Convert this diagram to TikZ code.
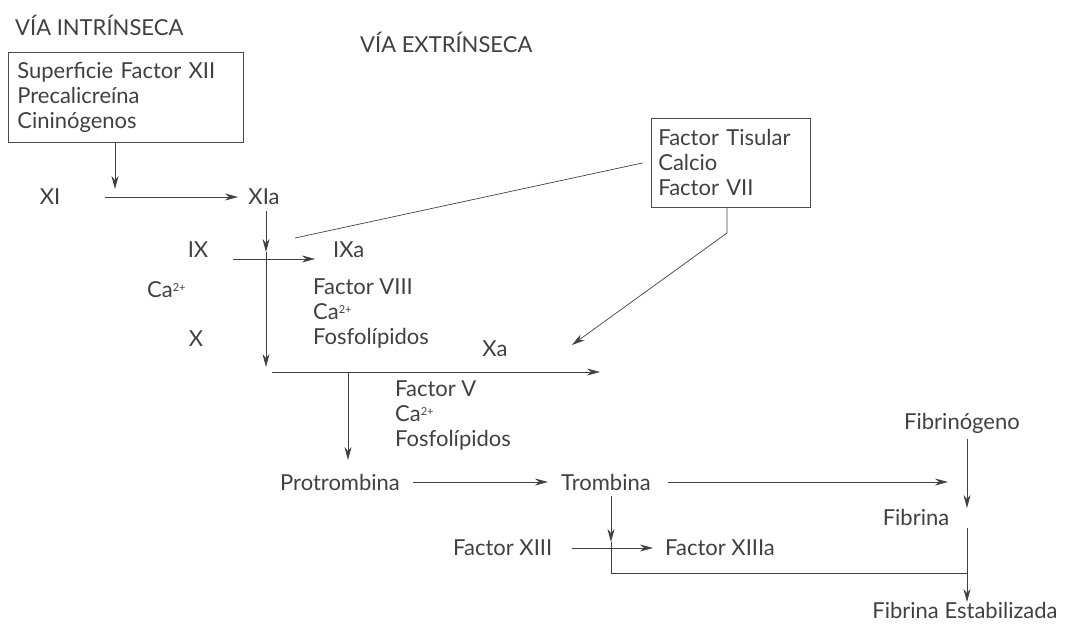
\documentclass[tikz,border=0pt]{standalone}
\usepackage{fontspec}
\setmainfont{Lato}
\usetikzlibrary{arrows.meta}
\newcommand{\cados}{Ca\raisebox{0.6ex}{\fontsize{11}{11}\selectfont 2+}}
\begin{document}
\begin{tikzpicture}[x=1pt,y=-1pt,
    lbl/.style={inner sep=0pt,font=\fontsize{22}{25}\selectfont,text=black!75},
    caja/.style={lbl,draw=black!70,line width=0.7pt,align=left,anchor=north west,inner xsep=9pt},
    con/.style={draw=black!75,line width=0.7pt},
    arr/.style={con,-{Stealth[length=13pt,width=7pt]}}]
\useasboundingbox (0,0) rectangle (1066,626);

\node[lbl,anchor=west] (intr) at (15,25) {VÍA INTRÍNSECA};
\node[lbl,anchor=west] (extr) at (360,42) {VÍA EXTRÍNSECA};

\node[caja,text width=217pt,minimum height=90pt] (sup) at (8,52)
    {Superficie Factor XII\\Precalicreína\\Cininógenos};
\node[caja,text width=145pt,minimum height=89pt,inner xsep=7pt] (tis) at (651,118)
    {Factor Tisular\\Calcio\\Factor VII};

\node[lbl] (xi) at (50,197) {XI};
\node[lbl] (xia) at (264,197) {XIa};
\node[lbl] (ix) at (198,250) {IX};
\node[lbl,anchor=west] (ixa) at (333,250) {IXa};
\node[lbl,anchor=west] (ca) at (147,290) {\cados};
\node[lbl,anchor=north west,align=left] (fviii) at (313,279)
    {Factor VIII\\\cados\\Fosfolípidos};
\node[lbl] (x) at (196,339) {X};
\node[lbl] (xa) at (495,349) {Xa};
\node[lbl,anchor=north west,align=left] (fv) at (395,381)
    {Factor V\\\cados\\Fosfolípidos};
\node[lbl,anchor=west] (prot) at (280,482) {Protrombina};
\node[lbl,anchor=west] (trom) at (561,482) {Trombina};
\node[lbl] (fibg) at (962,423) {Fibrinógeno};
\node[lbl] (fib) at (916,517) {Fibrina};
\node[lbl,anchor=west] (fxiii) at (453,548) {Factor XIII};
\node[lbl,anchor=west] (fxiiia) at (665,548) {Factor XIIIa};
\node[lbl] (fest) at (965,610) {Fibrina Estabilizada};

% puntos de paso
\coordinate (a1) at (115,189);
\coordinate (a2) at (266,252);
\coordinate (a3) at (266,367);
\coordinate (a4) at (295,238);
\coordinate (a5) at (727,233);
\coordinate (a6) at (572,345);
\coordinate (a7) at (348,372);
\coordinate (a8) at (611,542);
\coordinate (a9) at (967,573);

\draw[arr] (sup.south -| a1) -- (a1);
\draw[arr] (105,197) -- (238,197);
\draw[arr] (xia.south -| a2) ++(0,6) -- (a2);
\draw[arr] (a2) -- (a3);
\draw[arr] (233,259) -- (315,259);
\draw[con] ([xshift=-8pt]tis.west) -- (a4);
\draw[arr] (tis.south -| a5) -- (a5) -- (a6);
\draw[arr] (272,372) -- (600,372);
\draw[arr] (a7) -- (348,460);
\draw[arr] (413,482) -- (548,482);
\draw[arr] (668,482) -- (948,482);
\draw[arr] ([yshift=-6pt]fibg.south -| a9) -- (967,508);
\draw[arr] (967,528) -- (967,602);
\draw[arr] ([yshift=-6pt]trom.south -| a8) -- (a8);
\draw[con] (a8) -- (a8 |- a9) -- (a9);
\draw[arr] (572,548) -- (653,548);
\end{tikzpicture}
\end{document}
